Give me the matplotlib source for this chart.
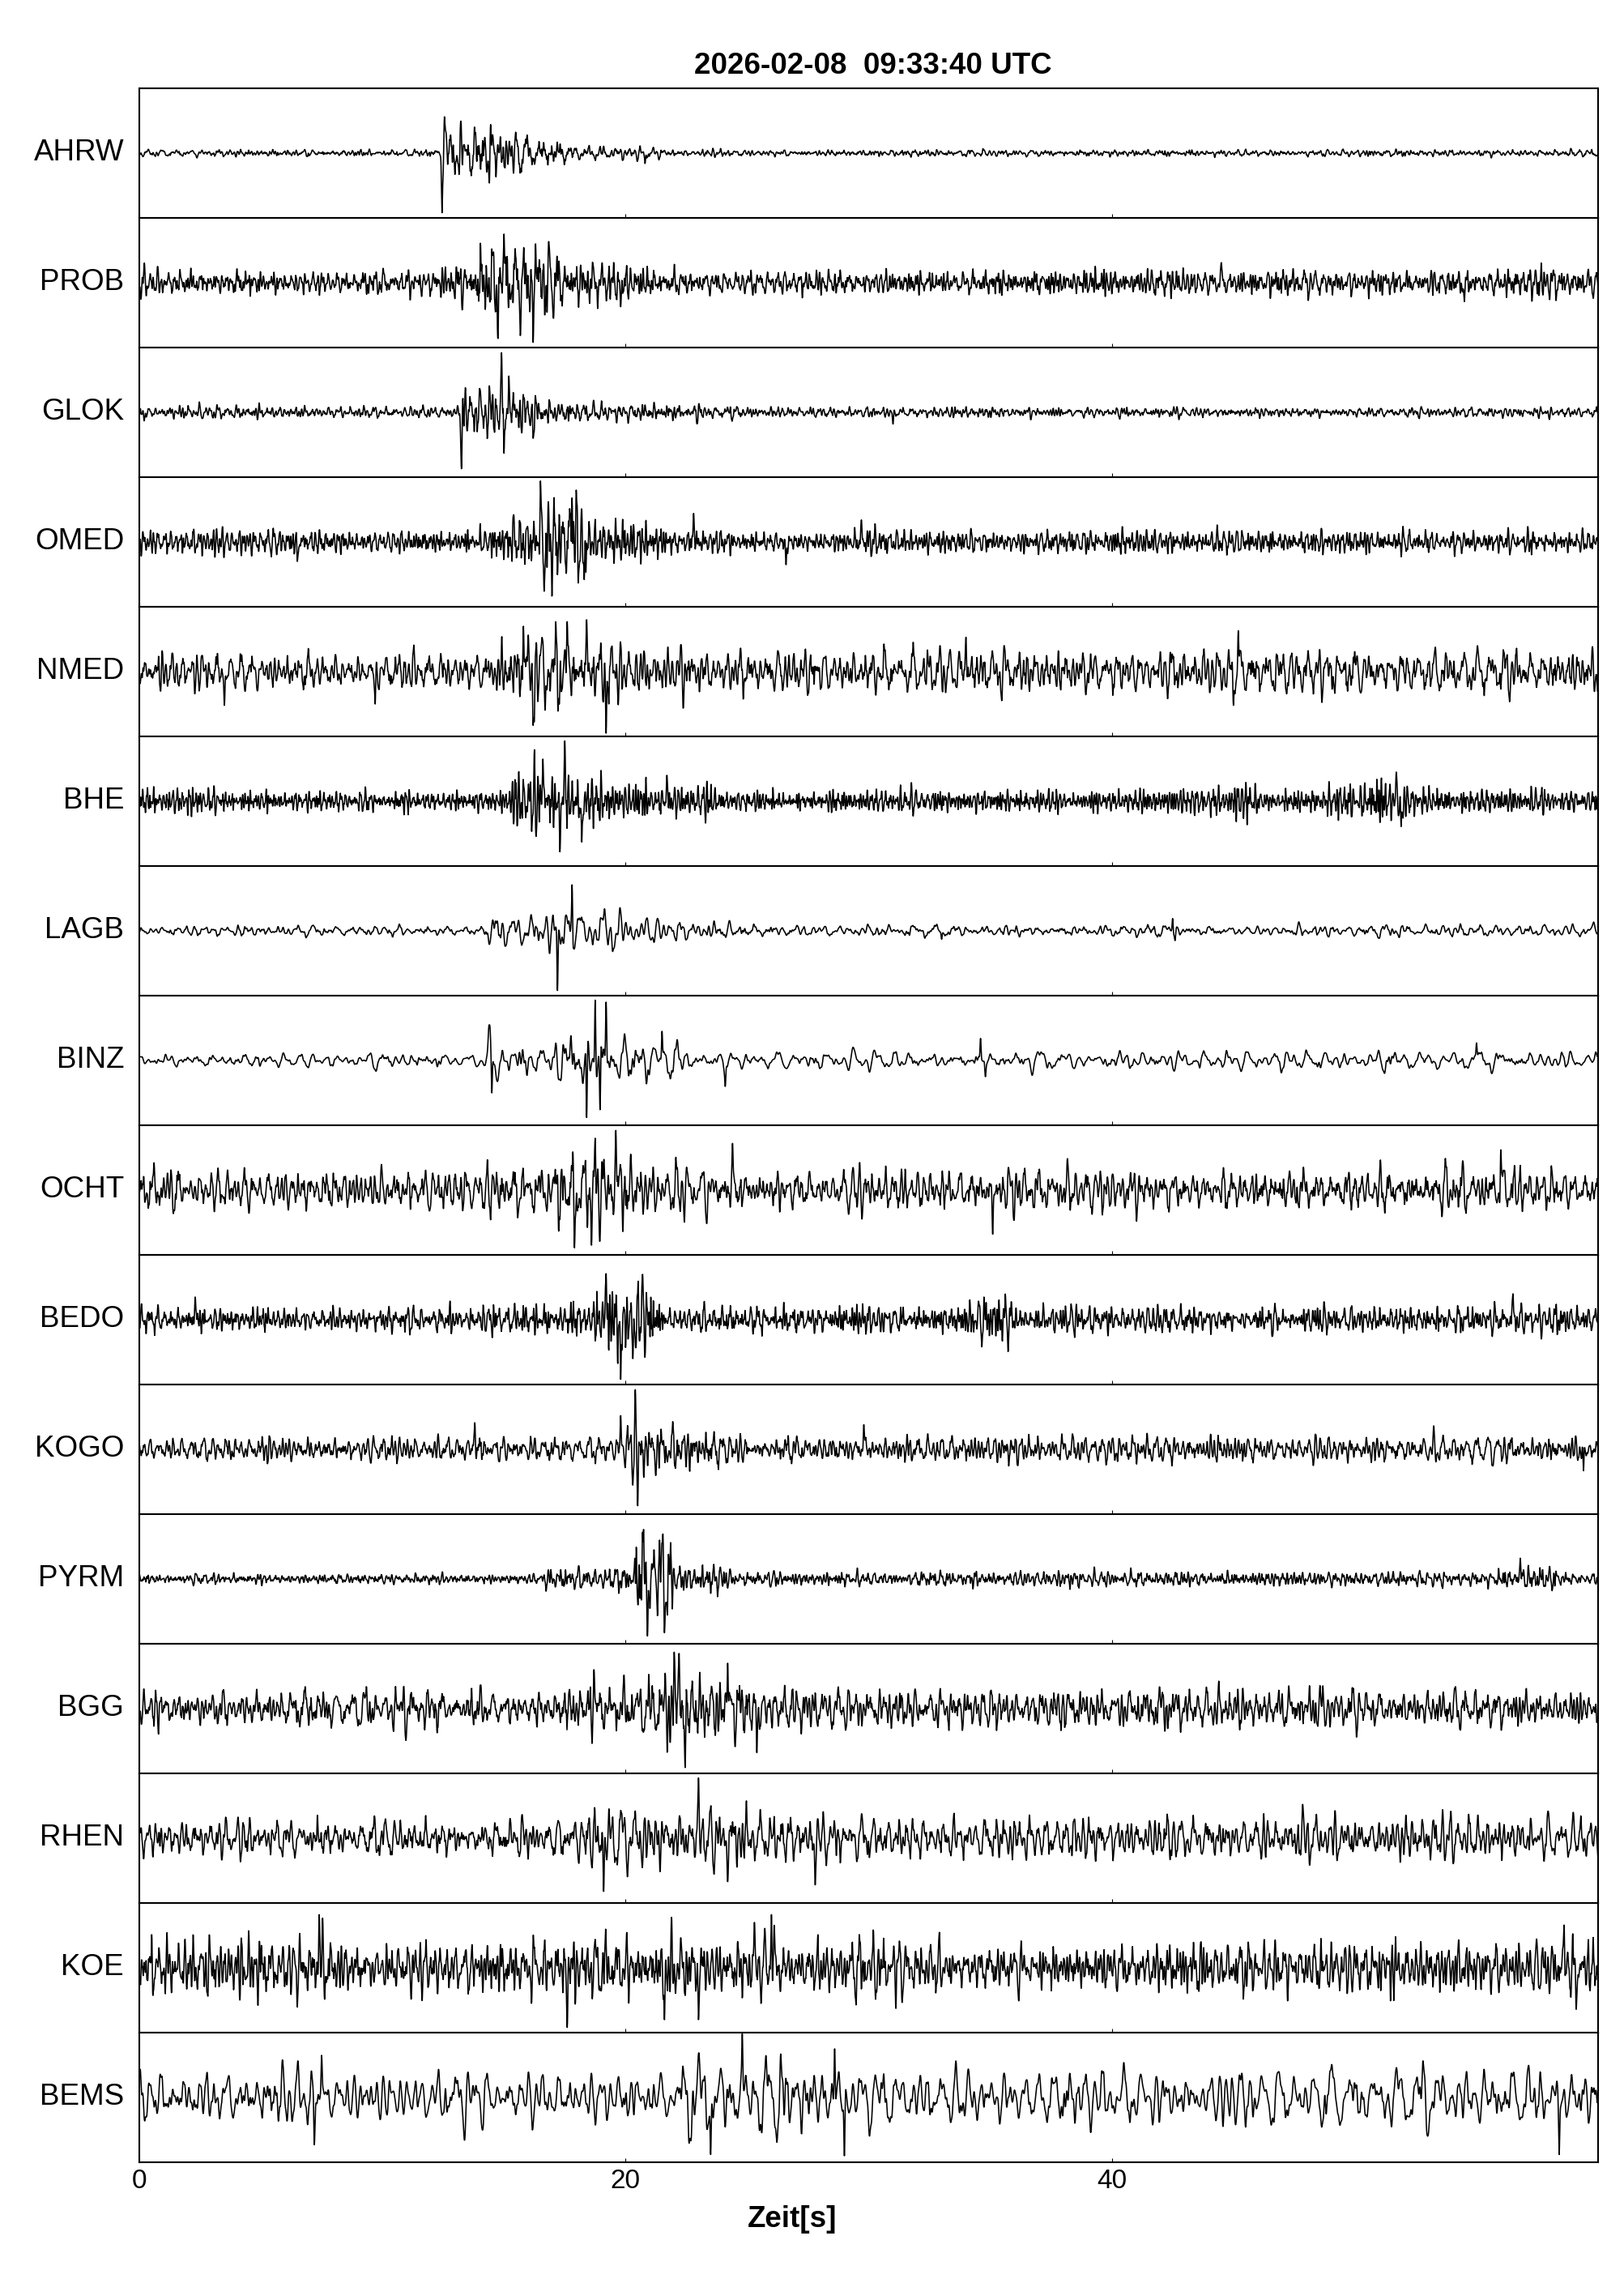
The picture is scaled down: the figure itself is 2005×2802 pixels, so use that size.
import numpy as np
import matplotlib
matplotlib.use("Agg")
import matplotlib.pyplot as plt

# Stations from top to bottom
STATIONS = ["AHRW", "PROB", "GLOK", "OMED", "NMED", "BHE", "LAGB", "BINZ",
            "OCHT", "BEDO", "KOGO", "PYRM", "BGG", "RHEN", "KOE", "BEMS"]

TITLE = "2026-02-08  09:33:40 UTC"
XLABEL = "Zeit[s]"
X_TICKS = [0, 20, 40]
T_END = 60.0
FS = 100.0  # samples per second

# Envelope: (time s, typical peak amplitude as a fraction of half a panel)
AHRW_ENV = [(0, .045), (12.4, .045), (12.5, .38), (14, .35), (16, .25), (17.5, .13), (20, .08), (23, .06), (25, .045), (60, .045)]
PROB_ENV = [(0, .19), (2, .16), (12.4, .16), (12.5, .25), (13.7, .3), (14, .6), (16.5, .6), (17, .32), (18.5, .28), (21, .2), (23, .17), (55, .17), (57, .21), (60, .2)]
GLOK_ENV = [(0, .08), (13.15, .08), (13.2, .35), (14.5, .33), (16.5, .3), (17, .18), (19, .15), (20, .12), (24.5, .1), (26, .07), (60, .065)]
OMED_ENV = [(0, .16), (14.3, .16), (14.5, .3), (16.4, .45), (16.5, .6), (18, .55), (18.5, .35), (20, .3), (21, .22), (24, .2), (25, .16), (60, .16)]
NMED_ENV = [(0, .25), (14.3, .25), (14.5, .55), (19.6, .55), (20, .4), (22, .35), (23, .3), (60, .3)]
BHE_ENV = [(0, .2), (3.5, .17), (4, .14), (15, .15), (15.5, .4), (18.5, .4), (19, .3), (20, .25), (23.5, .2), (24, .15), (42, .15), (42.5, .22), (47, .22), (48, .17), (49, .25), (52, .25), (52.5, .16), (60, .16)]
LAGB_ENV = [(0, .07), (14.2, .07), (14.3, .22), (16.5, .25), (17, .35), (19.5, .3), (20, .18), (24, .13), (25, .08), (60, .08)]
BINZ_ENV = [(0, .1), (14.2, .1), (14.3, .35), (17.3, .33), (17.5, .5), (19.5, .45), (20, .33), (22, .3), (23, .15), (25, .12), (60, .12)]
OCHT_ENV = [(0, .27), (14, .27), (14.2, .33), (17, .35), (17.2, .55), (20, .55), (20.3, .35), (23, .33), (24, .28), (52, .28), (53, .33), (57, .33), (58, .28), (60, .28)]
BEDO_ENV = [(0, .17), (14.5, .17), (14.7, .22), (18.6, .22), (18.8, .55), (21, .5), (21.5, .2), (33.5, .18), (34, .3), (36, .28), (36.5, .18), (60, .18)]
KOGO_ENV = [(0, .17), (19.9, .17), (20, .4), (21, .35), (24, .28), (25, .18), (60, .18)]
PYRM_ENV = [(0, .07), (16.5, .07), (16.7, .14), (20.2, .14), (20.4, .55), (21.8, .55), (22, .2), (24, .17), (25, .1), (55.5, .1), (56, .15), (58, .15), (58.5, .1), (60, .1)]
BGG_ENV = [(0, .25), (17.3, .25), (17.5, .38), (21.5, .38), (21.8, .6), (22.6, .6), (23, .42), (26, .38), (27, .27), (60, .27)]
RHEN_ENV = [(0, .27), (17.3, .27), (17.5, .37), (25.5, .37), (26, .3), (60, .3)]
KOE_ENV = [(0, .42), (8, .4), (9, .35), (17, .35), (17.5, .42), (26, .42), (27, .35), (57, .35), (58, .4), (60, .4)]
BEMS_ENV = [(0, .38), (22, .38), (22.5, .65), (27, .65), (28, .42), (30, .38), (60, .38)]

# Single large swings: (time s, signed amplitude)
AHRW_SPIKES = [(12.45, -0.92), (12.55, 0.56), (14.4, -0.52), (14.45, 0.44), (20.8, -0.16)]
PROB_SPIKES = [(14.75, -0.86), (15.0, 0.75), (16.2, -0.92), (16.3, 0.6), (19.8, -0.37), (44.5, 0.31), (54.5, -0.29)]
GLOK_SPIKES = [(0.2, -0.13), (13.25, -0.87), (14.9, 0.92), (15.0, -0.63), (15.2, 0.56), (16.2, -0.4), (31.0, -0.18), (58.0, -0.11)]
OMED_SPIKES = [(6.5, -0.3), (15.4, 0.42), (16.5, 0.94), (16.65, -0.76), (17.8, 0.68), (18.3, -0.58), (22.8, 0.44), (26.6, -0.35), (29.7, 0.34)]
NMED_SPIKES = [(3.5, -0.52), (9.7, -0.5), (15.8, 0.7), (16.2, -0.83), (17.6, 0.77), (18.4, 0.8), (19.2, -0.95), (34.0, 0.53), (45.0, -0.52), (45.2, 0.63)]
BHE_SPIKES = [(16.6, 0.65), (17.3, -0.78), (17.5, 0.93), (18.2, -0.63), (21.7, 0.4), (51.7, 0.45), (51.9, -0.39)]
LAGB_SPIKES = [(17.2, -0.92), (17.8, 0.71), (33.0, -0.13), (42.5, 0.19), (42.6, -0.15)]
BINZ_SPIKES = [(14.4, 0.55), (14.5, -0.5), (18.4, -0.88), (18.75, 0.93), (18.95, -0.76), (19.2, 0.9), (21.5, 0.45), (24.1, -0.4), (34.6, 0.34), (34.8, -0.25), (55.0, 0.27)]
OCHT_SPIKES = [(17.9, -0.89), (18.6, -0.85), (18.75, 0.8), (19.6, 0.92), (24.4, 0.72), (35.1, -0.68), (56.0, 0.62)]
BEDO_SPIKES = [(2.3, 0.35), (19.2, 0.71), (19.8, -0.92), (20.3, -0.6), (20.7, 0.7), (56.5, 0.4)]
KOGO_SPIKES = [(13.8, 0.41), (19.8, 0.52), (20.4, 0.92), (20.5, -0.87), (29.8, 0.38), (59.4, -0.33)]
PYRM_SPIKES = [(20.7, 0.72), (20.9, -0.88), (21.4, 0.6), (21.6, -0.83), (56.8, 0.32)]
BGG_SPIKES = [(18.7, 0.6), (22.0, 0.87), (22.2, 0.85), (22.45, -0.91), (24.2, 0.7), (25.4, -0.68)]
RHEN_SPIKES = [(19.1, -0.82), (23.0, 0.93), (24.2, -0.67), (27.8, -0.72)]
KOE_SPIKES = [(7.4, 0.82), (17.6, -0.92), (21.6, -0.8), (23.0, -0.8), (25.3, 0.7), (26.0, 0.82), (58.6, 0.66), (59.1, -0.64)]
BEMS_SPIKES = [(7.2, -0.73), (7.5, 0.65), (23.5, -0.88), (24.8, 0.98), (28.6, 0.75), (29.0, -0.9), (58.4, -0.88)]

# Visible frequency band of each trace (Hz), estimated from the wiggle density
BANDS = [(1.5, 10), (2, 12), (2, 10), (3, 12), (1.5, 8), (4, 14), (1, 5), (0.8, 4),
         (1.5, 8), (2.5, 12), (2, 9), (2.5, 12), (1.5, 9), (1.5, 8), (2, 10), (1, 4.5)]

ENVELOPES = [AHRW_ENV, PROB_ENV, GLOK_ENV, OMED_ENV, NMED_ENV, BHE_ENV, LAGB_ENV, BINZ_ENV,
             OCHT_ENV, BEDO_ENV, KOGO_ENV, PYRM_ENV, BGG_ENV, RHEN_ENV, KOE_ENV, BEMS_ENV]
SPIKES = [AHRW_SPIKES, PROB_SPIKES, GLOK_SPIKES, OMED_SPIKES, NMED_SPIKES, BHE_SPIKES, LAGB_SPIKES, BINZ_SPIKES,
          OCHT_SPIKES, BEDO_SPIKES, KOGO_SPIKES, PYRM_SPIKES, BGG_SPIKES, RHEN_SPIKES, KOE_SPIKES, BEMS_SPIKES]


def scramble(x):
    # deterministic hash to spread frequencies and phases, values in [0, 1)
    return np.abs(np.sin(x * 12.9898 + 78.233) * 43758.5453) % 1.0


def texture(t, lo, hi, k):
    freqs = lo * (hi / lo) ** scramble(k * 1.31)
    phases = 2 * np.pi * scramble(k * 0.77 + 5.1)
    s = np.zeros_like(t)
    for f, p in zip(freqs, phases):
        s += np.sin(2 * np.pi * f * t + p)
    return s / s.std()


def build_trace(i, t):
    """Wiggle texture in the trace's band, scaled by the read envelope, plus the read spikes."""
    lo, hi = BANDS[i]
    carrier = texture(t, lo, hi, np.arange(240) + 1000 * i)
    # fine jitter riding on the main swings
    carrier += 0.25 * texture(t, hi, min(2.5 * hi, 22), np.arange(120) + 1000 * i + 500)
    carrier /= carrier.std()

    env_t, env_a = zip(*ENVELOPES[i])
    env = np.interp(t, env_t, env_a)
    y = env * carrier / 2.0

    # the spikes take over the trace locally so they reach the read amplitude
    for t0, a in SPIKES[i]:
        g = np.exp(-((t - t0) / 0.03) ** 2)
        y = y * (1 - g) + a * g
    return y


plt.rcParams['font.family'] = ['Liberation Sans', 'DejaVu Sans']

W, H = 2005, 2802
fig = plt.figure(figsize=(W / 100, H / 100), dpi=100)

left, right, top, panel_h = 172, 1973, 109, 160
t = np.arange(0, T_END, 1 / FS)

n = len(STATIONS)
for i, name in enumerate(STATIONS):
    y0 = H - top - (i + 1) * panel_h
    ax = fig.add_axes([left / W, y0 / H, (right - left) / W, panel_h / H])
    ax.plot(t, build_trace(i, t), color='black', lw=1.15)
    ax.set_xlim(0, T_END)
    ax.set_ylim(-1, 1)
    ax.set_yticks([])
    ax.set_xticks(X_TICKS)
    ax.tick_params(axis='x', direction='in', length=3.6, width=0.8, labelsize=24, pad=6)
    if i < n - 1:
        ax.tick_params(axis='x', labelbottom=False)
    for sp in ax.spines.values():
        sp.set_linewidth(1.5)
    ax.text(-0.0105, 0.5, name, transform=ax.transAxes, ha='right', va='center', fontsize=26.5)

fig.text(1078 / W, 1 - 81.5 / H, TITLE, ha='center', va='center', fontsize=26.5, fontweight='bold')
fig.text(978 / W, 1 - 2749 / H, XLABEL, ha='center', va='baseline', fontsize=26.5, fontweight='bold')

fig.savefig("out.png", dpi=100)
